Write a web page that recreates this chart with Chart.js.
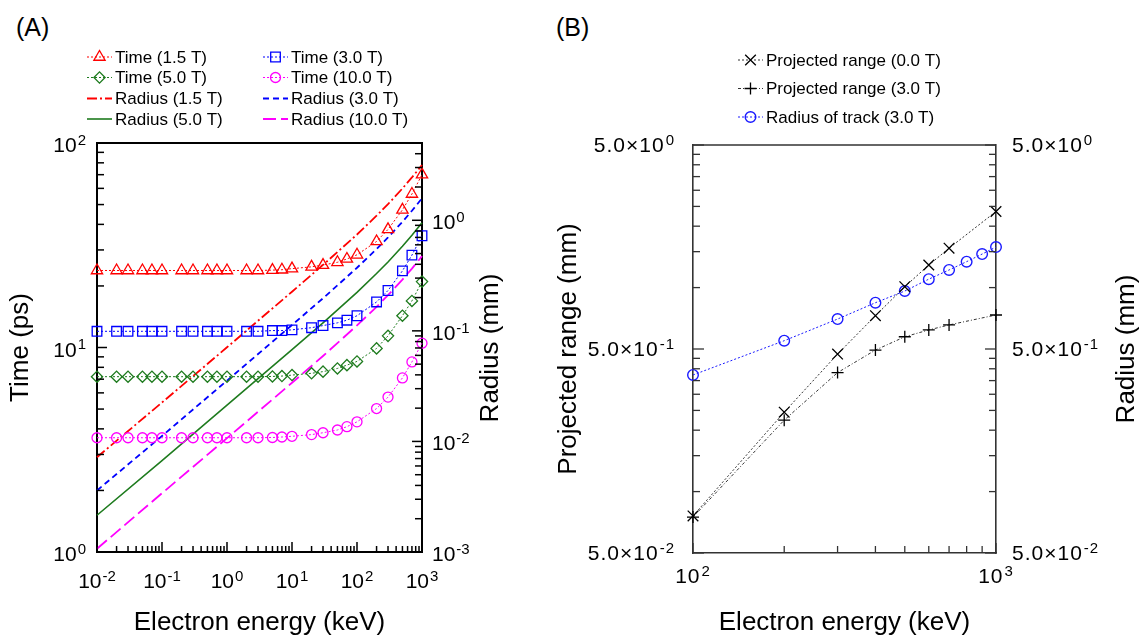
<!DOCTYPE html>
<html>
<head>
<meta charset="utf-8">
<script src="https://cdn.jsdelivr.net/npm/chart.js@4.4.1/dist/chart.umd.min.js"></script>
<style>
  html, body { margin: 0; padding: 0; background: #fff; }
  body { width: 1141px; height: 638px; position: relative; overflow: hidden; font-family: 'Liberation Sans', Arial, sans-serif; }
  #chartA { position: absolute; left: 0; top: 0; }
  #chartB { position: absolute; left: 540px; top: 0; }
  .panel { position: absolute; font-size: 25px; line-height: 28px; color: #000; }
</style>
</head>
<body>
<div class="panel" style="left:16px; top:13px;">(A)</div>
<div class="panel" style="left:556px; top:13px;">(B)</div>
<canvas id="chartA" width="540" height="638"></canvas>
<canvas id="chartB" width="601" height="638"></canvas>
<script>
const FONT = "'Liberation Sans', Arial, Helvetica, sans-serif";

// ---- panel A data ----
const energyA = [0.01, 0.02, 0.03, 0.05, 0.07, 0.1, 0.2, 0.3, 0.5, 0.7, 1, 2, 3, 5, 7, 10, 20, 30, 50, 70, 100, 200, 300, 500, 700, 1000];
const time15 = [23.8, 23.8, 23.8, 23.8, 23.8, 23.8, 23.8, 23.8, 23.8, 23.8, 23.8, 23.8, 23.8, 23.9, 24.0, 24.3, 24.8, 25.3, 26.1, 27.1, 28.4, 33.0, 37.8, 47.1, 56.3, 70.0];
const time30 = [12.0, 12.0, 12.0, 12.0, 12.0, 12.0, 12.0, 12.0, 12.0, 12.0, 12.0, 12.0, 12.0, 12.1, 12.1, 12.2, 12.5, 12.8, 13.2, 13.6, 14.3, 16.7, 19.0, 23.7, 28.3, 35.2];
const time50 = [7.2, 7.2, 7.2, 7.2, 7.2, 7.2, 7.2, 7.2, 7.2, 7.2, 7.2, 7.2, 7.2, 7.22, 7.25, 7.33, 7.48, 7.62, 7.9, 8.2, 8.55, 9.9, 11.4, 14.3, 16.9, 21.0];
const time100 = [3.62, 3.62, 3.62, 3.62, 3.62, 3.62, 3.62, 3.62, 3.62, 3.62, 3.62, 3.62, 3.62, 3.63, 3.65, 3.68, 3.75, 3.83, 3.95, 4.1, 4.33, 5.03, 5.72, 7.1, 8.5, 10.5];

const energyR = [0.01, 0.1, 1, 10, 30, 100, 200, 300, 500, 700, 1000];
const radius15 = [0.0072, 0.0225, 0.071, 0.226, 0.395, 0.744, 1.10, 1.40, 1.94, 2.44, 3.16];
const radius30 = [0.0036, 0.0112, 0.0355, 0.113, 0.197, 0.372, 0.549, 0.70, 0.969, 1.22, 1.58];
const radius50 = [0.00215, 0.0067, 0.0213, 0.0677, 0.118, 0.223, 0.330, 0.420, 0.582, 0.732, 0.948];
const radius100 = [0.00107, 0.0034, 0.0107, 0.0339, 0.0592, 0.112, 0.165, 0.210, 0.291, 0.366, 0.474];

const ticksAx = [0.01, 0.1, 1, 10, 100, 1000];
const labelsAx = ['10^-2', '10^-1', '10^0', '10^1', '10^2', '10^3'];
const ticksAy = [1, 10, 100];
const labelsAy = ['10^0', '10^1', '10^2'];
const ticksAy1 = [0.001, 0.01, 0.1, 1];
const labelsAy1 = ['10^-3', '10^-2', '10^-1', '10^0'];

// ---- panel B data ----
const energyB = [100, 200, 300, 400, 500, 600, 700, 800, 900, 1000];
const range00 = [0.076, 0.245, 0.472, 0.728, 1.01, 1.29, 1.56, null, null, 2.36];
const range30 = [0.075, 0.224, 0.383, 0.494, 0.574, 0.620, 0.656, null, null, 0.734];
const trackR30 = [0.373, 0.549, 0.701, 0.843, 0.962, 1.10, 1.22, 1.34, 1.46, 1.58];

const ticksBx = [100, 1000];
const labelsBx = ['10^2', '10^3'];
const ticksBy = [0.05, 0.5, 5];
const labelsBy = ['5.0×10^-2', '5.0×10^-1', '5.0×10^0'];

const pts = (xs, ys) => xs.map((x, i) => ({ x: x, y: ys[i] }));

function logMinor(lo, hi) {
  const out = [];
  for (let d = Math.floor(Math.log10(lo)); d <= Math.ceil(Math.log10(hi)); d++) {
    for (let k = 2; k <= 9; k++) {
      const v = k * Math.pow(10, d);
      if (v > lo * 1.0001 && v < hi * 0.9999) out.push(v);
    }
  }
  return out;
}
function stepMinor(lo, hi, step) {
  const out = [];
  for (let v = lo + step; v < hi - step / 2; v += step) out.push(+v.toFixed(4));
  return out;
}

function drawSupLabel(ctx, text, x, y, align, size, spacing) {
  const parts = text.split('^');
  const base = parts[0], exp = parts[1];
  const supSize = Math.round(size * 0.7);
  ctx.font = size + 'px ' + FONT;
  ctx.letterSpacing = (spacing || 0) + 'px';
  const wb = ctx.measureText(base).width;
  ctx.font = supSize + 'px ' + FONT;
  const we = exp ? ctx.measureText(exp).width + 1 : 0;
  const w = wb + we;
  const sx = align === 'center' ? x - w / 2 : align === 'right' ? x - w : x;
  ctx.textAlign = 'left';
  ctx.textBaseline = 'alphabetic';
  ctx.font = size + 'px ' + FONT;
  ctx.fillText(base, sx, y);
  if (exp) {
    ctx.font = supSize + 'px ' + FONT;
    ctx.fillText(exp, sx + wb + 1, y - size * 0.34);
  }
  ctx.letterSpacing = '0px';
}

// frame, inward ticks, tick labels, right title and legend
const decoPlugin = {
  id: 'deco',
  afterDraw(chart, args, o) {
    const ctx = chart.ctx;
    const a = chart.chartArea;
    ctx.save();
    ctx.strokeStyle = o.axisColor;
    ctx.lineWidth = o.axisWidth;
    ctx.beginPath();
    ctx.moveTo(a.left, a.top);
    ctx.lineTo(a.right, a.top);
    ctx.stroke();

    ctx.lineWidth = o.tickWidth;
    o.ticks.forEach(t => {
      const s = chart.scales[t.scale];
      const mark = (v, len) => {
        const p = s.getPixelForValue(v);
        ctx.beginPath();
        if (t.side === 'bottom') { ctx.moveTo(p, a.bottom); ctx.lineTo(p, a.bottom - len); }
        else if (t.side === 'left') { ctx.moveTo(a.left, p); ctx.lineTo(a.left + len, p); }
        else { ctx.moveTo(a.right, p); ctx.lineTo(a.right - len, p); }
        ctx.stroke();
      };
      t.minor.forEach(v => mark(v, t.minorLen));
      t.major.forEach(v => mark(v, t.majorLen));
    });

    ctx.fillStyle = '#000';
    o.labels.forEach(l => {
      const s = chart.scales[l.scale];
      l.values.forEach((v, i) => {
        const p = s.getPixelForValue(v);
        if (l.side === 'bottom') drawSupLabel(ctx, l.texts[i], p, a.bottom + l.offset, 'center', o.labelSize, o.labelSpacing);
        else if (l.side === 'left') drawSupLabel(ctx, l.texts[i], a.left - l.offset, p + l.dy, 'right', o.labelSize, o.labelSpacing);
        else drawSupLabel(ctx, l.texts[i], a.right + l.offset, p + l.dy, 'left', o.labelSize, o.labelSpacing);
      });
    });

    const rt = o.rightTitle;
    ctx.save();
    ctx.translate(rt.x, rt.y);
    ctx.rotate(-Math.PI / 2);
    ctx.font = rt.size + 'px ' + FONT;
    ctx.textAlign = 'center';
    ctx.textBaseline = 'middle';
    ctx.fillText(rt.text, 0, 0);
    ctx.restore();

    const lg = o.legend;
    lg.items.forEach(it => {
      const ds = chart.data.datasets[it.ds];
      ctx.save();
      ctx.strokeStyle = ds.borderColor;
      ctx.lineWidth = ds.borderWidth;
      ctx.setLineDash(ds.borderDash || []);
      ctx.beginPath();
      ctx.moveTo(it.x, it.y);
      ctx.lineTo(it.x + lg.sampleLen, it.y);
      ctx.stroke();
      if (ds.pointRadius > 0 && Chart.helpers && Chart.helpers.drawPoint) {
        ctx.setLineDash([]);
        ctx.strokeStyle = ds.pointBorderColor || ds.borderColor;
        ctx.fillStyle = 'rgba(0,0,0,0)';
        ctx.lineWidth = ds.pointBorderWidth;
        Chart.helpers.drawPoint(ctx, { pointStyle: ds.pointStyle, radius: ds.pointRadius, rotation: 0, borderWidth: ds.pointBorderWidth }, it.x + lg.sampleLen / 2, it.y);
      }
      ctx.restore();
      ctx.fillStyle = '#000';
      ctx.font = lg.size + 'px ' + FONT;
      ctx.textAlign = 'left';
      ctx.textBaseline = 'middle';
      ctx.fillText(ds.label, it.x + lg.sampleLen + 3, it.y + 1);
    });
    ctx.restore();
  }
};

const RED = '#ff0000', BLUE = '#0000ff', GREEN = '#1e7b1e', MAG = '#ff00ff';

function timeSet(label, ys, color, style, r) {
  return {
    label: label, data: pts(energyA, ys), yAxisID: 'y',
    borderColor: color, borderWidth: 1, borderDash: [2, 2],
    pointStyle: style, pointRadius: r, pointBorderWidth: 1.3,
    pointBorderColor: color, pointBackgroundColor: 'rgba(0,0,0,0)',
    tension: 0, clip: false
  };
}
function radiusSet(label, ys, color, dash, w) {
  return {
    label: label, data: pts(energyR, ys), yAxisID: 'y1',
    borderColor: color, borderWidth: w, borderDash: dash,
    pointRadius: 0, tension: 0, clip: false
  };
}

const axisBase = (w) => ({
  type: 'logarithmic',
  grid: { display: false, drawTicks: false },
  ticks: { display: false },
  border: { display: true, color: '#000', width: w }
});

new Chart(document.getElementById('chartA'), {
  type: 'line',
  data: {
    datasets: [
      timeSet('Time (1.5 T)', time15, RED, 'triangle', 6.5),
      timeSet('Time (3.0 T)', time30, BLUE, 'rect', 6.8),
      timeSet('Time (5.0 T)', time50, GREEN, 'rectRot', 5.6),
      timeSet('Time (10.0 T)', time100, MAG, 'circle', 5),
      radiusSet('Radius (1.5 T)', radius15, RED, [10, 3, 2, 3], 1.8),
      radiusSet('Radius (3.0 T)', radius30, BLUE, [6, 4], 1.8),
      radiusSet('Radius (5.0 T)', radius50, GREEN, [], 1.6),
      radiusSet('Radius (10.0 T)', radius100, MAG, [13, 5], 1.8)
    ]
  },
  options: {
    responsive: false,
    animation: false,
    events: [],
    layout: { padding: { left: 0, right: 0, top: 143, bottom: 0 } },
    plugins: {
      legend: { display: false },
      tooltip: { enabled: false },
      deco: {
        axisColor: '#000', axisWidth: 2, tickWidth: 1.5, labelSize: 21, labelSpacing: 0,
        ticks: [
          { scale: 'x', side: 'bottom', major: ticksAx, minor: logMinor(0.01, 1000), majorLen: 10, minorLen: 6 },
          { scale: 'y', side: 'left', major: ticksAy, minor: logMinor(1, 100), majorLen: 10, minorLen: 7 },
          { scale: 'y1', side: 'right', major: ticksAy1, minor: logMinor(0.001, 5), majorLen: 10, minorLen: 7 }
        ],
        labels: [
          { scale: 'x', side: 'bottom', values: ticksAx, texts: labelsAx, offset: 36 },
          { scale: 'y', side: 'left', values: ticksAy, texts: labelsAy, offset: 11, dy: 9 },
          { scale: 'y1', side: 'right', values: ticksAy1, texts: labelsAy1, offset: 10, dy: 9 }
        ],
        rightTitle: { text: 'Radius (mm)', x: 491, y: 348, size: 26 },
        legend: {
          size: 17, sampleLen: 25,
          items: [
            { ds: 0, x: 87, y: 57 }, { ds: 1, x: 263, y: 57 },
            { ds: 2, x: 87, y: 77.5 }, { ds: 3, x: 263, y: 77.5 },
            { ds: 4, x: 87, y: 98.5 }, { ds: 5, x: 263, y: 98.5 },
            { ds: 6, x: 87, y: 119 }, { ds: 7, x: 263, y: 119 }
          ]
        }
      }
    },
    scales: {
      x: Object.assign(axisBase(2), {
        position: 'bottom', min: 0.01, max: 1000,
        afterFit: s => { s.height = 86; },
        title: { display: true, text: 'Electron energy (keV)', color: '#000', font: { family: FONT, size: 26, lineHeight: 1 }, padding: { top: 0, bottom: 2 } }
      }),
      y: Object.assign(axisBase(2), {
        position: 'left', min: 1, max: 100,
        afterFit: s => { s.width = 97; },
        title: { display: true, text: 'Time (ps)', color: '#000', font: { family: FONT, size: 26, lineHeight: 1 }, padding: { top: 8, bottom: 0 } }
      }),
      y1: Object.assign(axisBase(2), {
        position: 'right', min: 0.001, max: 5,
        afterFit: s => { s.width = 118; }
      })
    }
  },
  plugins: [decoPlugin]
});

const GREY = '#333333', BBLUE = '#1a1aff';

new Chart(document.getElementById('chartB'), {
  type: 'line',
  data: {
    datasets: [
      {
        label: 'Projected range (0.0 T)', data: pts(energyB, range00), yAxisID: 'y',
        borderColor: GREY, borderWidth: 1, borderDash: [2, 2], spanGaps: true,
        pointStyle: 'crossRot', pointRadius: 7.5, pointBorderWidth: 1.3, pointBorderColor: '#000',
        tension: 0, clip: false
      },
      {
        label: 'Projected range (3.0 T)', data: pts(energyB, range30), yAxisID: 'y',
        borderColor: GREY, borderWidth: 1, borderDash: [3, 2, 1, 2], spanGaps: true,
        pointStyle: 'cross', pointRadius: 6, pointBorderWidth: 1.3, pointBorderColor: '#000',
        tension: 0, clip: false
      },
      {
        label: 'Radius of track (3.0 T)', data: pts(energyB, trackR30), yAxisID: 'y1',
        borderColor: BBLUE, borderWidth: 1, borderDash: [2, 2],
        pointStyle: 'circle', pointRadius: 5.3, pointBorderWidth: 1.4, pointBorderColor: BBLUE,
        pointBackgroundColor: 'rgba(0,0,0,0)', tension: 0, clip: false
      }
    ]
  },
  options: {
    responsive: false,
    animation: false,
    events: [],
    layout: { padding: { left: 0, right: 0, top: 145, bottom: 0 } },
    plugins: {
      legend: { display: false },
      tooltip: { enabled: false },
      deco: {
        axisColor: '#333', axisWidth: 1.6, tickWidth: 1.3, labelSize: 21, labelSpacing: 1,
        ticks: [
          { scale: 'x', side: 'bottom', major: ticksBx, minor: stepMinor(100, 1000, 100), majorLen: 10, minorLen: 7 },
          { scale: 'y', side: 'left', major: ticksBy, minor: stepMinor(0.05, 0.5, 0.05).concat(stepMinor(0.5, 5, 0.5)), majorLen: 11, minorLen: 7 },
          { scale: 'y1', side: 'right', major: ticksBy, minor: stepMinor(0.05, 0.5, 0.05).concat(stepMinor(0.5, 5, 0.5)), majorLen: 11, minorLen: 7 }
        ],
        labels: [
          { scale: 'x', side: 'bottom', values: ticksBx, texts: labelsBx, offset: 30 },
          { scale: 'y', side: 'left', values: ticksBy, texts: labelsBy, offset: 18, dy: 7 },
          { scale: 'y1', side: 'right', values: ticksBy, texts: labelsBy, offset: 16, dy: 7 }
        ],
        rightTitle: { text: 'Radius (mm)', x: 587, y: 349, size: 26 },
        legend: {
          size: 17, sampleLen: 25,
          items: [
            { ds: 0, x: 198, y: 60 },
            { ds: 1, x: 198, y: 88.5 },
            { ds: 2, x: 198, y: 117 }
          ]
        }
      }
    },
    scales: {
      x: Object.assign(axisBase(1.6), {
        position: 'bottom', min: 100, max: 1000,
        border: { display: true, color: '#333', width: 1.6 },
        afterFit: s => { s.height = 85; },
        title: { display: true, text: 'Electron energy (keV)', color: '#000', font: { family: FONT, size: 26, lineHeight: 1 }, padding: { top: 0, bottom: 2 } }
      }),
      y: Object.assign(axisBase(1.6), {
        position: 'left', min: 0.05, max: 5,
        border: { display: true, color: '#333', width: 1.6 },
        afterFit: s => { s.width = 153; },
        title: { display: true, text: 'Projected range (mm)', color: '#000', font: { family: FONT, size: 26, lineHeight: 1 }, padding: { top: 16, bottom: 0 } }
      }),
      y1: Object.assign(axisBase(1.6), {
        position: 'right', min: 0.05, max: 5,
        border: { display: true, color: '#333', width: 1.6 },
        afterFit: s => { s.width = 145; }
      })
    }
  },
  plugins: [decoPlugin]
});
</script>
</body>
</html>
